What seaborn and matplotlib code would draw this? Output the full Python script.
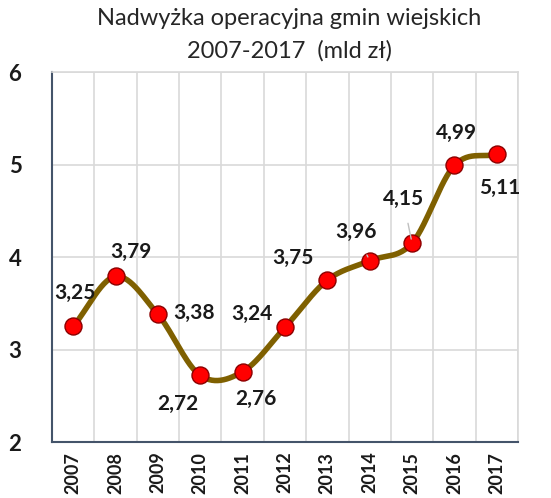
import numpy as np
import matplotlib
matplotlib.use("Agg")
import matplotlib.pyplot as plt
import seaborn as sns

years = ['2007', '2008', '2009', '2010', '2011', '2012', '2013', '2014', '2015', '2016', '2017']
values = [3.25, 3.79, 3.38, 2.72, 2.76, 3.24, 3.75, 3.96, 4.15, 4.99, 5.11]
labels = ['3,25', '3,79', '3,38', '2,72', '2,76', '3,24', '3,75', '3,96', '4,15', '4,99', '5,11']
# przesunięcia etykiet w pikselach (dx, dy)
label_offsets = [(2, 33), (15, 24), (36, 1), (-22, -29), (13, -27), (-33, 13),
                 (-34, 22), (-14, 29), (-9, 44), (2, 32), (3, -34)]
leader = [False] * 7 + [True, True, False, False]

sns.set_theme(style="white")
plt.rcParams['font.family'] = ['Lato', 'DejaVu Sans']

fig = plt.figure(figsize=(5.51, 4.98), dpi=100)
ax = fig.add_axes([0.0944, 0.1124, 0.8456, 0.743])


def catmull_rom(x, y, n=30):
    # wygładzenie linii jak w Excelu
    px = np.concatenate([[2 * x[0] - x[1]], x, [2 * x[-1] - x[-2]]])
    py = np.concatenate([[2 * y[0] - y[1]], y, [2 * y[-1] - y[-2]]])
    xs, ys = [], []
    t = np.linspace(0, 1, n)
    for i in range(1, len(px) - 2):
        p0, p1, p2, p3 = px[i - 1], px[i], px[i + 1], px[i + 2]
        q0, q1, q2, q3 = py[i - 1], py[i], py[i + 1], py[i + 2]
        xs.append(0.5 * (2 * p1 + (-p0 + p2) * t + (2 * p0 - 5 * p1 + 4 * p2 - p3) * t ** 2 + (-p0 + 3 * p1 - 3 * p2 + p3) * t ** 3))
        ys.append(0.5 * (2 * q1 + (-q0 + q2) * t + (2 * q0 - 5 * q1 + 4 * q2 - q3) * t ** 2 + (-q0 + 3 * q1 - 3 * q2 + q3) * t ** 3))
    return np.concatenate(xs), np.concatenate(ys)


xpos = np.arange(len(years), dtype=float)
sx, sy = catmull_rom(xpos, np.array(values))
ax.plot(sx, sy, color='#7f6000', lw=4, solid_capstyle='round', zorder=3)
sns.scatterplot(x=xpos, y=values, ax=ax, s=150, color='#ff0000', edgecolor='#8b0000',
                linewidth=1.0, zorder=4, legend=False)

for x, v, lab, off, ld in zip(xpos, values, labels, label_offsets, leader):
    kw = {}
    if ld:
        kw['arrowprops'] = dict(arrowstyle='-', color='#bfbfbf', lw=1, shrinkA=8, shrinkB=3)
    ax.annotate(lab, (x, v), xytext=off, textcoords='offset pixels', ha='center', va='center',
                fontsize=15, fontweight='bold', color='#1a1a1a', zorder=5, **kw)

ax.set_xlim(-0.5, 10.5)
ax.set_ylim(2, 6)
ax.set_xticks(xpos)
ax.set_xticklabels(years, rotation=90, fontsize=13, fontweight='bold', color='#1a1a1a')
ax.set_xticks(np.arange(-0.5, 11, 1), minor=True)
ax.set_yticks([2, 3, 4, 5, 6])
ax.set_yticklabels(['2', '3', '4', '5', '6'], fontsize=16, fontweight='bold', color='#1a1a1a')
ax.tick_params(axis='y', length=0, pad=22)
ax.tick_params(axis='x', which='both', length=0, pad=7)
ax.grid(True, axis='y', color='#d9d9d9', lw=1.2)
ax.grid(True, axis='x', which='minor', color='#d9d9d9', lw=1.2)
ax.grid(False, axis='x', which='major')
for s in ['top', 'right']:
    ax.spines[s].set_color('#d9d9d9')
    ax.spines[s].set_linewidth(1.2)
for s in ['left', 'bottom']:
    ax.spines[s].set_color('#44546a')
    ax.spines[s].set_linewidth(1.5)

fig.text(0.525, 0.962, 'Nadwyżka operacyjna gmin wiejskich', ha='center', va='center',
         fontsize=17, color='#262626')
fig.text(0.525, 0.898, '2007-2017  (mld zł)', ha='center', va='center',
         fontsize=17, color='#262626')

fig.savefig('out.png', dpi=100)
